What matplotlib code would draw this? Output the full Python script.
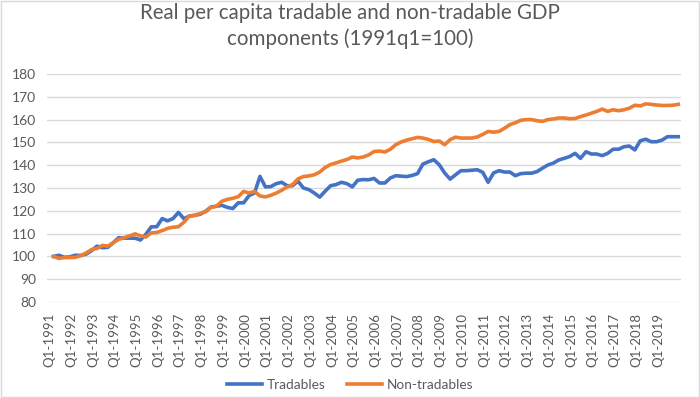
import numpy as np
import matplotlib
matplotlib.use("Agg")
import matplotlib.pyplot as plt

plt.rcParams['font.family'] = ['Lato', 'DejaVu Sans']

years = list(range(1991, 2020))
tick_labels = [f"Q1-{y}" for y in years]

tradables = [
    100, 100.5, 99.6, 99.8,
    100.5, 100.4, 101, 102.5,
    104.5, 103.8, 104, 106,
    108.2, 108, 108, 108,
    107.2, 109.7, 113, 113,
    116.6, 115.6, 116.6, 119.3,
    116.5, 117.7, 118, 118.5,
    119.8, 121.7, 122, 122.4,
    121.5, 121, 123.5, 123.5,
    126.7, 127.8, 135.1, 130.5,
    130.6, 131.9, 132.5, 131,
    131, 133, 130, 129.3,
    127.8, 126, 128.6, 131,
    131.5, 132.5, 131.9, 130.5,
    133.4, 133.7, 133.6, 134.2,
    132.2, 132.2, 134.4, 135.4,
    135.2, 135, 135.5, 136.3,
    140.5, 141.5, 142.4, 140.2,
    136.6, 133.9, 135.8, 137.6,
    137.6, 137.8, 138, 136.9,
    132.5, 136.6, 137.6, 137,
    137, 135.4, 136.3, 136.5,
    136.5, 137.2, 138.7, 140.1,
    140.9, 142.3, 143, 143.8,
    145.2, 143, 145.9, 144.9,
    144.9, 144.2, 145.2, 147,
    147, 148.1, 148.4, 146.7,
    150.7, 151.4, 150.3, 150.3,
    151, 152.5, 152.5, 152.5,
]

non_tradables = [
    100, 99.1, 99.5, 99.5,
    99.6, 100.3, 101.5, 103,
    103.5, 104.8, 104.5, 106,
    107.5, 108.2, 109, 109.9,
    109, 108.5, 110.3, 110.5,
    111.3, 112.3, 112.8, 113,
    115, 117.7, 118, 118.8,
    119.6, 121.5, 122, 124.2,
    125, 125.5, 126.2, 128.5,
    127.8, 128.5, 126.5, 126.1,
    126.8, 127.8, 129, 130.5,
    131.5, 134, 135, 135.3,
    135.8, 137, 139, 140.3,
    141, 141.8, 142.5, 143.6,
    143.2, 143.6, 144.5, 146,
    146.2, 145.8, 147, 149,
    150.2, 151, 151.6, 152.2,
    151.9, 151.3, 150.4, 150.6,
    149, 151.2, 152.3, 151.9,
    151.9, 151.9, 152.4, 153.5,
    154.8, 154.5, 154.8, 156.2,
    157.8, 158.6, 159.7, 160,
    160, 159.5, 159.2, 160,
    160.3, 160.7, 160.7, 160.4,
    160.5, 161.3, 162, 162.8,
    163.6, 164.6, 163.6, 164.3,
    163.9, 164.3, 165, 166.3,
    166, 166.9, 166.7, 166.4,
    166.2, 166.2, 166.3, 166.7,
]

x = np.arange(len(tradables))
gray = '#595959'

fig = plt.figure(figsize=(7.0, 3.98), dpi=100)
ax = fig.add_axes([47/700, 1-302/398, (681-47)/700, (302-74)/398])

ax.plot(x, tradables, color='#4472C4', lw=2.6, label='Tradables', solid_joinstyle='round')
ax.plot(x, non_tradables, color='#ED7D31', lw=2.6, label='Non-tradables', solid_joinstyle='round')

ax.set_xlim(-1.2, 115.5)
ax.set_ylim(80, 180)
ax.set_yticks(np.arange(80, 181, 10))
ax.set_xticks(np.arange(0, len(x), 4) - 0.75)
ax.set_xticklabels(tick_labels, rotation=90, fontsize=9.5, color=gray)
ax.tick_params(axis='y', labelsize=10, colors=gray, length=0, pad=8)
ax.tick_params(axis='x', length=0, pad=8)
ax.grid(axis='y', color='#D9D9D9', lw=1.0)
ax.set_axisbelow(True)
for s in ax.spines.values():
    s.set_visible(False)

fig.text(0.5, 1-3/398, "Real per capita tradable and non-tradable GDP\ncomponents (1991q1=100)",
         ha='center', va='top', fontsize=14.8, color=gray, linespacing=1.3)

leg = fig.legend(loc='center', bbox_to_anchor=(0.5, 1-385/398), ncol=2, frameon=False,
                 fontsize=9.8, handlelength=2.6, columnspacing=1.6, handletextpad=0.3)
for t in leg.get_texts():
    t.set_color(gray)

# chart border
fig.patches.append(matplotlib.patches.Rectangle((0.002, 0.002), 0.996, 0.996, transform=fig.transFigure,
                                                fill=False, edgecolor='#D9D9D9', lw=1.0))

fig.savefig('out.png', dpi=100)
